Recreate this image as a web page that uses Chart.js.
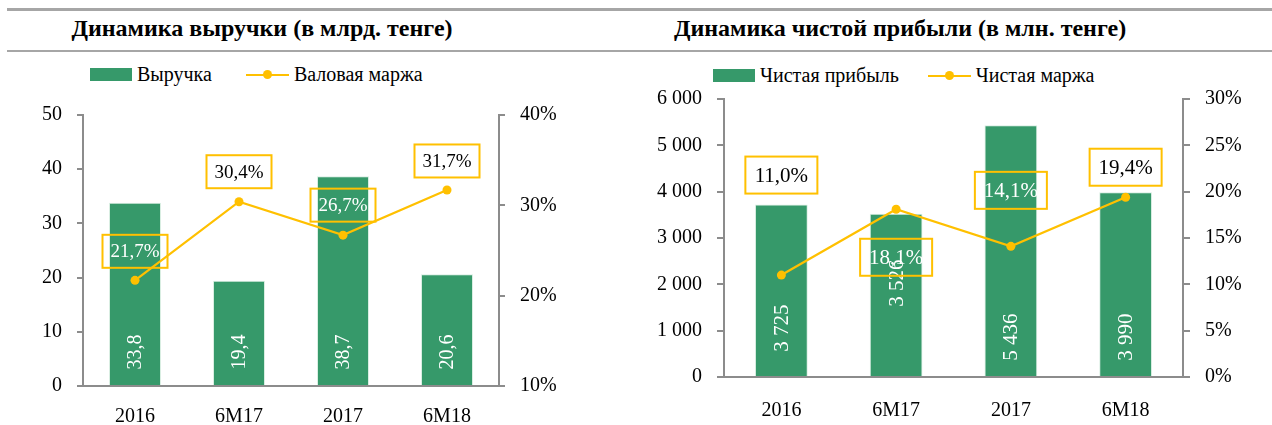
<!DOCTYPE html>
<html>
<head>
<meta charset="utf-8">
<script src="https://cdn.jsdelivr.net/npm/chart.js@4"></script>
<style>
  html, body { margin: 0; padding: 0; background: #fff; }
  body { width: 1272px; height: 425px; position: relative; overflow: hidden; font-family: "Liberation Serif", serif; color: #000; }
  .rule { position: absolute; left: 7px; right: 0; background: #a6a6a6; }
  .title { position: absolute; top: 15px; font-weight: bold; font-size: 24px; text-align: center; white-space: nowrap; }
  .legend { position: absolute; display: flex; align-items: center; font-size: 20px; white-space: nowrap; }
  .legend .item { display: flex; align-items: center; }
  .legend .sw { width: 42px; height: 13px; margin-right: 5px; }
  .legend .ln { width: 43px; height: 2px; margin-right: 5px; position: relative; }
  .legend .ln i { position: absolute; left: 17px; top: -4px; width: 9px; height: 9px; border-radius: 50%; }
  .box { position: absolute; }
</style>
</head>
<body>
<div class="rule" style="top:8px;height:3px"></div>
<div class="rule" style="top:50px;height:2px"></div>

<div class="title" style="left:0;width:524px">Динамика выручки (в млрд. тенге)</div>
<div class="title" style="left:636px;width:528px">Динамика чистой прибыли (в млн. тенге)</div>

<div class="legend" id="legend-revenue" style="left:90px;top:63px"></div>
<div class="legend" id="legend-profit" style="left:713px;top:64px"></div>

<div class="box" style="left:0;top:88px;width:636px;height:337px"><canvas id="chart-revenue"></canvas></div>
<div class="box" style="left:636px;top:72px;width:636px;height:353px"><canvas id="chart-profit"></canvas></div>

<script>
const periods = ["2016", "6M17", "2017", "6M18"];

const revenue = [33.8, 19.4, 38.7, 20.6];
const grossMargin = [21.7, 30.4, 26.7, 31.7];

const netProfit = [3725, 3526, 5436, 3990];
const netMargin = [11.0, 18.1, 14.1, 19.4];

const revenueTicks = [0, 10, 20, 30, 40, 50];
const grossMarginTicks = [10, 20, 30, 40];
const profitTicks = [0, 1000, 2000, 3000, 4000, 5000, 6000];
const netMarginTicks = [0, 5, 10, 15, 20, 25, 30];

const GREEN = "#36996a";
const GOLD = "#ffc000";
const AXIS = "#8c8c8c";
const FONT = "'Liberation Serif', serif";

const comma = (v, d) => v.toFixed(d).replace(".", ",");
const spaced = (v) => String(v).replace(/\B(?=(\d{3})+(?!\d))/g, " ");

// draws bar values (rotated, white) and boxed line labels
const valueLabels = {
    id: "valueLabels",
    afterDatasetsDraw(chart, args, opts) {
        const ctx = chart.ctx;
        const bars = chart.getDatasetMeta(0);
        const line = chart.getDatasetMeta(1);
        const base = chart.scales.y.getPixelForValue(0);

        ctx.save();
        ctx.font = opts.barFont + "px " + FONT;
        ctx.fillStyle = "#fff";
        ctx.textAlign = "center";
        ctx.textBaseline = "middle";
        bars.data.forEach((el, i) => {
            ctx.save();
            ctx.translate(el.x, base - opts.barOffset[i]);
            ctx.rotate(-Math.PI / 2);
            ctx.fillText(opts.barText(chart.data.datasets[0].data[i]), 0, 1);
            ctx.restore();
        });

        ctx.font = opts.lineFont + "px " + FONT;
        line.data.forEach((el, i) => {
            const cy = el.y + opts.boxDy[i];
            const w = opts.boxW, h = opts.boxH;
            ctx.strokeStyle = GOLD;
            ctx.lineWidth = 2;
            ctx.strokeRect(el.x - w / 2, cy - h / 2, w, h);
            ctx.fillStyle = opts.boxText[i];
            ctx.fillText(opts.lineText(chart.data.datasets[1].data[i]), el.x, cy + 1);
        });
        ctx.restore();
    },
};

const fixWidth = (w) => (scale) => { scale.width = w; };
const fixHeight = (h) => (scale) => { scale.height = h; };

const makeChart = (id, cfg) => new Chart(document.getElementById(id), {
    type: "bar",
    data: {
        labels: periods,
        datasets: [
            {
                type: "bar",
                label: cfg.barLabel,
                data: cfg.bars,
                backgroundColor: GREEN,
                borderColor: "#d9eee2",
                borderWidth: 1,
                categoryPercentage: 1,
                barPercentage: cfg.barPct,
                yAxisID: "y",
                order: 2,
            },
            {
                type: "line",
                label: cfg.lineLabel,
                data: cfg.line,
                borderColor: GOLD,
                backgroundColor: GOLD,
                borderWidth: 2.25,
                pointRadius: 4.5,
                pointBorderWidth: 0,
                tension: 0,
                yAxisID: "y1",
                order: 1,
            },
        ],
    },
    options: {
        responsive: true,
        maintainAspectRatio: false,
        animation: false,
        layout: { padding: { top: cfg.padTop, left: 0, right: 0, bottom: 0 } },
        plugins: {
            legend: { display: false },
            tooltip: { enabled: false },
            valueLabels: cfg.labels,
        },
        scales: {
            x: {
                grid: { display: false },
                border: { display: true, color: AXIS, width: 2 },
                ticks: { color: "#000", font: { family: FONT, size: 20 }, padding: cfg.xPad, maxRotation: 0 },
                afterFit: fixHeight(cfg.xHeight),
            },
            y: {
                position: "left",
                min: cfg.yTicks[0],
                max: cfg.yTicks[cfg.yTicks.length - 1],
                afterBuildTicks: (s) => { s.ticks = cfg.yTicks.map((v) => ({ value: v })); },
                grid: { drawOnChartArea: false, drawTicks: true, tickLength: cfg.tick, color: AXIS, lineWidth: 2 },
                border: { display: true, color: AXIS, width: 2 },
                ticks: { color: "#000", font: { family: FONT, size: 20 }, padding: cfg.yPad, callback: cfg.yFmt },
                afterFit: fixWidth(cfg.leftW),
            },
            y1: {
                position: "right",
                min: cfg.y1Ticks[0],
                max: cfg.y1Ticks[cfg.y1Ticks.length - 1],
                afterBuildTicks: (s) => { s.ticks = cfg.y1Ticks.map((v) => ({ value: v })); },
                grid: { drawOnChartArea: false, drawTicks: true, tickLength: cfg.tick, color: AXIS, lineWidth: 2 },
                border: { display: true, color: AXIS, width: 2 },
                ticks: { color: "#000", font: { family: FONT, size: 20 }, padding: cfg.yPad, callback: (v) => v + "%" },
                afterFit: fixWidth(cfg.rightW),
            },
        },
    },
    plugins: [valueLabels],
});

const buildLegend = (chart, id, gap) => {
    const el = document.getElementById(id);
    chart.data.datasets.forEach((ds, i) => {
        const item = document.createElement("div");
        item.className = "item";
        if (i === 0) item.style.marginRight = gap + "px";
        const sym = document.createElement("div");
        if (ds.type === "bar") {
            sym.className = "sw";
            sym.style.background = ds.backgroundColor;
        } else {
            sym.className = "ln";
            sym.style.background = ds.borderColor;
            const dot = document.createElement("i");
            dot.style.background = ds.borderColor;
            sym.appendChild(dot);
        }
        const txt = document.createElement("span");
        txt.textContent = ds.label;
        item.appendChild(sym);
        item.appendChild(txt);
        el.appendChild(item);
    });
};

const revenueChart = makeChart("chart-revenue", {
    barLabel: "Выручка",
    lineLabel: "Валовая маржа",
    bars: revenue,
    line: grossMargin,
    barPct: 0.5,
    padTop: 14,
    xHeight: 39,
    xPad: 11,
    leftW: 83,
    rightW: 137,
    tick: 6,
    yPad: 15,
    yTicks: revenueTicks,
    y1Ticks: grossMarginTicks,
    yFmt: (v) => String(v),
    labels: {
        barFont: 20,
        barOffset: [34, 34, 34, 34],
        barText: (v) => comma(v, 1),
        lineFont: 19,
        boxW: 65,
        boxH: 33,
        boxDy: [-29, -30, -30, -29],
        boxText: ["#fff", "#000", "#fff", "#000"],
        lineText: (v) => comma(v, 1) + "%",
    },
});

const profitChart = makeChart("chart-profit", {
    barLabel: "Чистая прибыль",
    lineLabel: "Чистая маржа",
    bars: netProfit,
    line: netMargin,
    barPct: 0.46,
    padTop: 13,
    xHeight: 48,
    xPad: 14,
    leftW: 88,
    rightW: 89,
    tick: 7,
    yPad: 15,
    yTicks: profitTicks,
    y1Ticks: netMarginTicks,
    yFmt: (v) => spaced(v),
    labels: {
        barFont: 21,
        barOffset: [49, 94, 40, 40],
        barText: (v) => spaced(v),
        lineFont: 21,
        boxW: 72,
        boxH: 37,
        boxDy: [-100, 48, -56, -30],
        boxText: ["#000", "#fff", "#fff", "#000"],
        lineText: (v) => comma(v, 1) + "%",
    },
});

buildLegend(revenueChart, "legend-revenue", 34);
buildLegend(profitChart, "legend-profit", 29);
</script>
</body>
</html>
